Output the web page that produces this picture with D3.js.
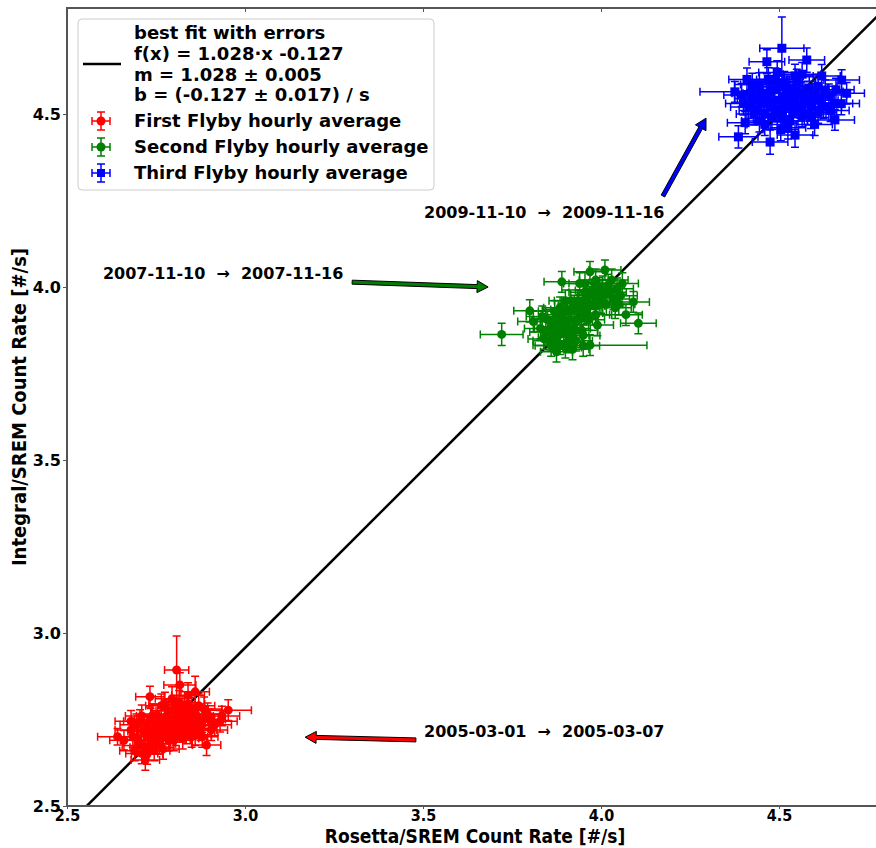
<!DOCTYPE html>
<meta charset="utf-8">
<style>
body { margin: 0; background: #fff; }
svg { display: block; }
.note { white-space: pre; }
</style>
<body>
<script src="https://d3js.org/d3.v7.min.js"></script>
<script>
// flyby hourly averages: [rosetta, integral, xerr, yerr]
var firstFlyby = [
  [2.808,2.893,0.034,0.098],[2.642,2.700,0.056,0.024],[2.953,2.777,0.065,0.030],[2.935,2.760,0.050,0.028],
  [2.733,2.816,0.040,0.030],[2.817,2.850,0.045,0.035],[2.860,2.830,0.040,0.045],[2.710,2.652,0.045,0.030],
  [2.892,2.676,0.040,0.030],[2.720,2.633,0.040,0.030],[2.680,2.720,0.045,0.030],[2.700,2.690,0.050,0.032],
  [2.740,2.760,0.045,0.035],[2.760,2.700,0.042,0.030],[2.775,2.745,0.048,0.033],[2.790,2.720,0.045,0.030],
  [2.800,2.775,0.050,0.036],[2.820,2.740,0.046,0.031],[2.835,2.710,0.044,0.030],[2.845,2.765,0.047,0.034],
  [2.860,2.745,0.049,0.032],[2.875,2.720,0.046,0.031],[2.885,2.780,0.050,0.035],[2.900,2.750,0.045,0.030],
  [2.725,2.735,0.043,0.031],[2.745,2.680,0.044,0.029],[2.755,2.725,0.046,0.032],[2.770,2.665,0.045,0.030],
  [2.785,2.690,0.047,0.031],[2.805,2.705,0.044,0.030],[2.815,2.800,0.045,0.034],[2.830,2.785,0.048,0.033],
  [2.850,2.700,0.045,0.030],[2.690,2.660,0.042,0.029],[2.705,2.745,0.046,0.033],[2.765,2.790,0.044,0.034],
  [2.795,2.810,0.047,0.035],[2.840,2.820,0.046,0.036],[2.870,2.790,0.045,0.034],[2.915,2.735,0.047,0.031],
  [2.730,2.705,0.045,0.030],[2.750,2.740,0.044,0.032],[2.780,2.760,0.046,0.033],[2.810,2.755,0.045,0.032],
  [2.825,2.725,0.047,0.031],[2.660,2.690,0.040,0.028],[2.720,2.670,0.043,0.030],[2.880,2.700,0.044,0.030],
  [2.685,2.700,0.045,0.030],[2.695,2.735,0.046,0.031],[2.715,2.715,0.044,0.030],[2.735,2.690,0.045,0.031],
  [2.735,2.750,0.046,0.032],[2.745,2.715,0.045,0.030],[2.755,2.760,0.047,0.033],[2.765,2.735,0.045,0.031],
  [2.770,2.710,0.046,0.030],[2.780,2.730,0.044,0.031],[2.785,2.775,0.047,0.033],[2.795,2.745,0.045,0.032],
  [2.800,2.690,0.046,0.030],[2.805,2.730,0.045,0.031],[2.815,2.715,0.047,0.031],[2.820,2.770,0.046,0.033],
  [2.830,2.750,0.045,0.032],[2.840,2.735,0.046,0.031],[2.850,2.780,0.047,0.034],[2.855,2.725,0.045,0.031],
  [2.865,2.760,0.046,0.032],[2.880,2.745,0.047,0.032],[2.895,2.765,0.045,0.033],[2.905,2.720,0.046,0.031],
  [2.760,2.680,0.045,0.030],[2.790,2.700,0.046,0.030],[2.825,2.695,0.045,0.030],[2.745,2.660,0.044,0.029],
  [2.700,2.675,0.045,0.030],[2.710,2.760,0.046,0.032],[2.775,2.795,0.045,0.034],[2.860,2.705,0.046,0.030],
  [2.725,2.650,0.044,0.029],[2.840,2.795,0.047,0.034],[2.930,2.745,0.048,0.031],[2.680,2.745,0.045,0.031]
];
var secondFlyby = [
  [3.721,3.863,0.060,0.032],[4.105,3.895,0.050,0.030],[3.969,3.832,0.160,0.030],[4.011,4.049,0.045,0.029],
  [3.890,4.015,0.050,0.030],[3.800,3.931,0.045,0.032],[4.091,3.957,0.045,0.030],[3.969,4.044,0.045,0.030],
  [3.875,3.813,0.045,0.030],[3.840,3.850,0.045,0.030],[3.860,3.880,0.047,0.031],[3.850,3.905,0.044,0.030],
  [3.880,3.860,0.046,0.031],[3.895,3.900,0.045,0.032],[3.905,3.840,0.046,0.030],[3.915,3.930,0.047,0.031],
  [3.925,3.880,0.045,0.030],[3.935,3.960,0.046,0.032],[3.945,3.910,0.047,0.031],[3.955,3.985,0.045,0.031],
  [3.965,3.945,0.046,0.031],[3.975,3.990,0.047,0.032],[3.985,3.920,0.045,0.030],[3.995,3.970,0.046,0.031],
  [4.005,4.000,0.047,0.032],[4.015,3.950,0.045,0.031],[4.025,3.985,0.046,0.030],[4.040,3.940,0.045,0.031],
  [4.055,3.975,0.047,0.030],[4.070,3.920,0.046,0.031],[3.830,3.880,0.045,0.030],[3.870,3.930,0.046,0.031],
  [3.910,3.870,0.047,0.032],[3.940,4.010,0.045,0.031],[3.900,3.960,0.046,0.031],[3.860,3.830,0.045,0.030],
  [3.920,3.820,0.046,0.030],[3.990,3.890,0.045,0.031],[4.030,4.020,0.046,0.032],[3.950,3.860,0.047,0.031],
  [3.810,3.900,0.044,0.030],[4.060,4.010,0.045,0.031],[3.885,3.940,0.046,0.031],[3.960,3.925,0.045,0.030],
  [3.930,3.845,0.046,0.030],
  [3.845,3.870,0.045,0.030],[3.855,3.845,0.046,0.030],[3.865,3.900,0.045,0.031],[3.870,3.855,0.046,0.030],
  [3.880,3.885,0.045,0.031],[3.885,3.835,0.046,0.030],[3.890,3.920,0.045,0.031],[3.895,3.865,0.047,0.031],
  [3.900,3.890,0.045,0.031],[3.905,3.935,0.046,0.031],[3.910,3.905,0.045,0.031],[3.920,3.860,0.046,0.030],
  [3.925,3.945,0.045,0.031],[3.930,3.900,0.046,0.031],[3.940,3.935,0.045,0.031],[3.945,3.875,0.046,0.030],
  [3.950,3.955,0.045,0.031],[3.960,3.970,0.046,0.032],[3.965,3.905,0.045,0.031],[3.970,3.950,0.046,0.031],
  [3.980,3.975,0.045,0.032],[3.985,3.945,0.046,0.031],[3.995,3.995,0.045,0.032],[4.000,3.955,0.046,0.031],
  [4.010,3.980,0.045,0.031],[4.020,4.005,0.046,0.032],[4.035,3.965,0.045,0.031],[4.045,3.995,0.046,0.031],
  [3.875,3.905,0.045,0.031],[3.915,3.960,0.046,0.031],[3.955,4.010,0.045,0.032],[3.985,4.020,0.046,0.032],
  [3.900,3.825,0.045,0.030],[3.950,3.830,0.046,0.030],[4.050,3.950,0.045,0.031],[3.835,3.915,0.045,0.030]
];
var thirdFlyby = [
  [4.508,4.690,0.062,0.090],[4.466,4.651,0.050,0.035],[4.578,4.656,0.050,0.035],[4.376,4.564,0.098,0.030],
  [4.386,4.434,0.055,0.032],[4.475,4.419,0.050,0.035],[4.545,4.439,0.050,0.035],[4.657,4.483,0.055,0.030],
  [4.676,4.598,0.050,0.030],[4.400,4.530,0.050,0.033],[4.420,4.560,0.052,0.033],[4.430,4.500,0.050,0.032],
  [4.445,4.585,0.053,0.034],[4.455,4.530,0.051,0.033],[4.470,4.560,0.050,0.032],[4.480,4.490,0.052,0.034],
  [4.490,4.600,0.053,0.033],[4.500,4.540,0.050,0.032],[4.510,4.510,0.052,0.033],[4.520,4.570,0.051,0.034],
  [4.530,4.480,0.050,0.032],[4.540,4.550,0.052,0.033],[4.550,4.595,0.053,0.034],[4.560,4.520,0.050,0.032],
  [4.570,4.560,0.051,0.033],[4.580,4.500,0.052,0.032],[4.595,4.545,0.050,0.033],[4.610,4.580,0.053,0.034],
  [4.625,4.520,0.051,0.033],[4.640,4.555,0.050,0.032],[4.655,4.530,0.052,0.033],[4.410,4.600,0.051,0.033],
  [4.460,4.470,0.050,0.032],[4.495,4.620,0.052,0.034],[4.525,4.460,0.050,0.032],[4.565,4.615,0.053,0.034],
  [4.600,4.470,0.050,0.032],[4.435,4.545,0.052,0.033],[4.515,4.590,0.050,0.033],[4.585,4.575,0.051,0.033],
  [4.620,4.610,0.052,0.033],[4.690,4.560,0.050,0.031],[4.405,4.475,0.050,0.032],[4.535,4.525,0.051,0.033],
  [4.475,4.525,0.052,0.033],
  [4.415,4.520,0.051,0.033],[4.425,4.545,0.050,0.033],[4.440,4.510,0.052,0.033],[4.450,4.560,0.051,0.033],
  [4.460,4.500,0.050,0.032],[4.465,4.545,0.052,0.033],[4.480,4.530,0.051,0.033],[4.485,4.570,0.050,0.033],
  [4.490,4.510,0.052,0.033],[4.500,4.580,0.051,0.034],[4.505,4.490,0.050,0.032],[4.515,4.545,0.052,0.033],
  [4.520,4.520,0.051,0.033],[4.530,4.575,0.050,0.033],[4.540,4.505,0.052,0.032],[4.545,4.540,0.051,0.033],
  [4.555,4.560,0.050,0.033],[4.565,4.495,0.052,0.032],[4.575,4.535,0.051,0.033],[4.590,4.520,0.050,0.032],
  [4.600,4.555,0.052,0.033],[4.615,4.540,0.051,0.033],[4.630,4.565,0.050,0.033],[4.645,4.510,0.052,0.032],
  [4.660,4.570,0.051,0.033],[4.445,4.480,0.050,0.032],[4.520,4.480,0.051,0.032],[4.590,4.490,0.050,0.032],
  [4.470,4.600,0.052,0.034],[4.545,4.610,0.051,0.034],[4.395,4.555,0.050,0.033],[4.675,4.530,0.051,0.032],
  [4.425,4.585,0.050,0.033],[4.610,4.505,0.052,0.032],[4.505,4.455,0.050,0.032]
];

var fitSlope = 1.028, fitIntercept = -0.127;
var fitLabels = ["best fit with errors", "f(x) = 1.028\u00b7x -0.127", "m = 1.028 \u00b1 0.005", "b = (-0.127 \u00b1 0.017) / s"];

var seriesNames = ["First Flyby hourly average", "Second Flyby hourly average", "Third Flyby hourly average"];
var seriesColors = ["#ff0000", "#008000", "#0000ff"];
var seriesShapes = ["circle", "circle", "square"];

var xTicks = [2.5, 3.0, 3.5, 4.0, 4.5];
var yTicks = [2.5, 3.0, 3.5, 4.0, 4.5];

// annotations: label, label position, arrow tail, arrow tip (data units)
var notes = [
  {text: "2009-11-10  \u2192  2009-11-16", at: [3.503, 4.217], tail: [4.174, 4.263], tip: [4.295, 4.488], color: "#0000ff"},
  {text: "2007-11-10  \u2192  2007-11-16", at: [2.601, 4.040], tail: [3.301, 4.014], tip: [3.683, 4.000], color: "#008000"},
  {text: "2005-03-01  \u2192  2005-03-07", at: [3.503, 2.717], tail: [3.480, 2.691], tip: [3.169, 2.699], color: "#ff0000"}
];

var W = 876, H = 848,
    margin = {top: 8, left: 67},
    ph = 798;

var svg = d3.select("body").append("svg").attr("width", W).attr("height", H);
var g = svg.append("g").attr("transform", "translate(" + margin.left + "," + margin.top + ")");

var x = d3.scaleLinear().domain([2.5, 4.8]).range([0, 2.3 * 356]);
var y = d3.scaleLinear().domain([2.5, 4.805]).range([ph, ph - 2.305 * 346]);

svg.append("defs").append("clipPath").attr("id", "plot")
  .append("rect").attr("width", x(4.8)).attr("height", ph);

var plot = g.append("g").attr("clip-path", "url(#plot)");

// fit line
plot.append("line")
    .attr("x1", x(2.5)).attr("y1", y(fitSlope * 2.5 + fitIntercept))
    .attr("x2", x(4.8)).attr("y2", y(fitSlope * 4.8 + fitIntercept))
    .attr("stroke", "#000").attr("stroke-width", 2.5);

var cap = 4;
[firstFlyby, secondFlyby, thirdFlyby].forEach(function(data, i) {
  var col = seriesColors[i];
  var s = plot.append("g").attr("stroke", col).attr("fill", col).attr("stroke-width", 1.5);
  var bars = s.append("g");
  data.forEach(function(d) {
    var cx = x(d[0]), cy = y(d[1]),
        x0 = x(d[0] - d[2]), x1 = x(d[0] + d[2]),
        y0 = y(d[1] - d[3]), y1 = y(d[1] + d[3]);
    bars.append("path").attr("fill", "none")
      .attr("d", "M" + x0 + "," + cy + "H" + x1 +
                 "M" + cx + "," + y0 + "V" + y1 +
                 "M" + x0 + "," + (cy - cap) + "v" + 2 * cap +
                 "M" + x1 + "," + (cy - cap) + "v" + 2 * cap +
                 "M" + (cx - cap) + "," + y0 + "h" + 2 * cap +
                 "M" + (cx - cap) + "," + y1 + "h" + 2 * cap);
  });
  if (seriesShapes[i] === "square") {
    s.selectAll("rect.m").data(data).enter().append("rect").attr("class", "m")
      .attr("x", function(d) { return x(d[0]) - 4.5; })
      .attr("y", function(d) { return y(d[1]) - 4.5; })
      .attr("width", 9).attr("height", 9).attr("stroke", "none");
  } else {
    s.selectAll("circle").data(data).enter().append("circle")
      .attr("cx", function(d) { return x(d[0]); })
      .attr("cy", function(d) { return y(d[1]); })
      .attr("r", 4.5).attr("stroke", "none");
  }
});

// annotations
notes.forEach(function(n) {
  g.append("text").attr("class", "note")
    .attr("xml:space", "preserve")
    .attr("x", x(n.at[0])).attr("y", y(n.at[1]))
    .attr("dy", "0.35em")
    .style("font", "bold 16px 'DejaVu Sans'")
    .text(n.text);
  var x1 = x(n.tail[0]), y1 = y(n.tail[1]), x2 = x(n.tip[0]), y2 = y(n.tip[1]);
  var L = Math.hypot(x2 - x1, y2 - y1), ux = (x2 - x1) / L, uy = (y2 - y1) / L,
      nx = -uy, ny = ux, w = 2, hw = 6, hl = 11,
      bx = x2 - ux * hl, by = y2 - uy * hl;
  var pts = [
    [x1 + nx * w, y1 + ny * w], [bx + nx * w, by + ny * w], [bx + nx * hw, by + ny * hw],
    [x2, y2], [bx - nx * hw, by - ny * hw], [bx - nx * w, by - ny * w], [x1 - nx * w, y1 - ny * w]
  ];
  g.append("polygon").attr("points", pts.map(function(p) { return p.join(","); }).join(" "))
    .attr("fill", n.color).attr("stroke", "#000").attr("stroke-width", 1).attr("stroke-linejoin", "round");
});

// frame
g.append("rect").attr("width", x(4.8)).attr("height", ph)
  .attr("fill", "none").attr("stroke", "#555").attr("stroke-width", 2);

// axes
var xAxis = g.append("g").attr("transform", "translate(0," + ph + ")")
  .call(d3.axisBottom(x).tickValues(xTicks).tickFormat(d3.format(".1f")).tickSize(3).tickPadding(1));
xAxis.selectAll("text").style("font", "bold 16px 'DejaVu Sans Condensed'").attr("fill", "#000");
g.append("g")
  .call(d3.axisTop(x).tickValues(xTicks).tickFormat("").tickSize(-4));
var yAxis = g.append("g")
  .call(d3.axisLeft(y).tickValues(yTicks).tickFormat(d3.format(".1f")).tickSize(4).tickPadding(2));
yAxis.selectAll("text").style("font", "bold 16px 'DejaVu Sans'").attr("fill", "#000");
g.selectAll(".domain").remove();
g.selectAll(".tick line").attr("stroke", "#555");

svg.append("text")
  .attr("x", 475).attr("y", 836.5).attr("dy", "0.35em")
  .attr("text-anchor", "middle")
  .style("font", "bold 19px 'DejaVu Sans Condensed'")
  .text("Rosetta/SREM Count Rate [#/s]");
svg.append("text")
  .attr("transform", "translate(19,407) rotate(-90)")
  .attr("dy", "0.35em")
  .attr("text-anchor", "middle")
  .style("font", "bold 20px 'DejaVu Sans Condensed'")
  .text("Integral/SREM Count Rate [#/s]");

// legend
var lg = svg.append("g").attr("transform", "translate(78,19)");
lg.append("rect").attr("width", 356).attr("height", 171).attr("rx", 4)
  .attr("fill", "#fff").attr("fill-opacity", 0.9).attr("stroke", "#ccc").attr("stroke-width", 1);
lg.append("line").attr("x1", 5).attr("x2", 43).attr("y1", 45).attr("y2", 45)
  .attr("stroke", "#000").attr("stroke-width", 2.5);
fitLabels.forEach(function(t, i) {
  lg.append("text").attr("x", 56).attr("y", 14 + i * 20.7).attr("dy", "0.35em")
    .style("font", "bold 18px 'DejaVu Sans'").text(t);
});
seriesNames.forEach(function(t, i) {
  var cy = 102 + i * 26, cx = 23, col = seriesColors[i];
  var e = lg.append("g").attr("stroke", col).attr("fill", col).attr("stroke-width", 1.5);
  e.append("path").attr("fill", "none")
    .attr("d", "M" + (cx - 9) + "," + cy + "h18M" + cx + "," + (cy - 9) + "v18" +
               "M" + (cx - 9) + "," + (cy - 4) + "v8M" + (cx + 9) + "," + (cy - 4) + "v8" +
               "M" + (cx - 4) + "," + (cy - 9) + "h8M" + (cx - 4) + "," + (cy + 9) + "h8");
  if (seriesShapes[i] === "square") {
    e.append("rect").attr("x", cx - 4).attr("y", cy - 4).attr("width", 8).attr("height", 8).attr("stroke", "none");
  } else {
    e.append("circle").attr("cx", cx).attr("cy", cy).attr("r", 4.5).attr("stroke", "none");
  }
  lg.append("text").attr("x", 56).attr("y", cy).attr("dy", "0.35em")
    .style("font", "bold 18px 'DejaVu Sans'").text(t);
});
</script>
</body>
